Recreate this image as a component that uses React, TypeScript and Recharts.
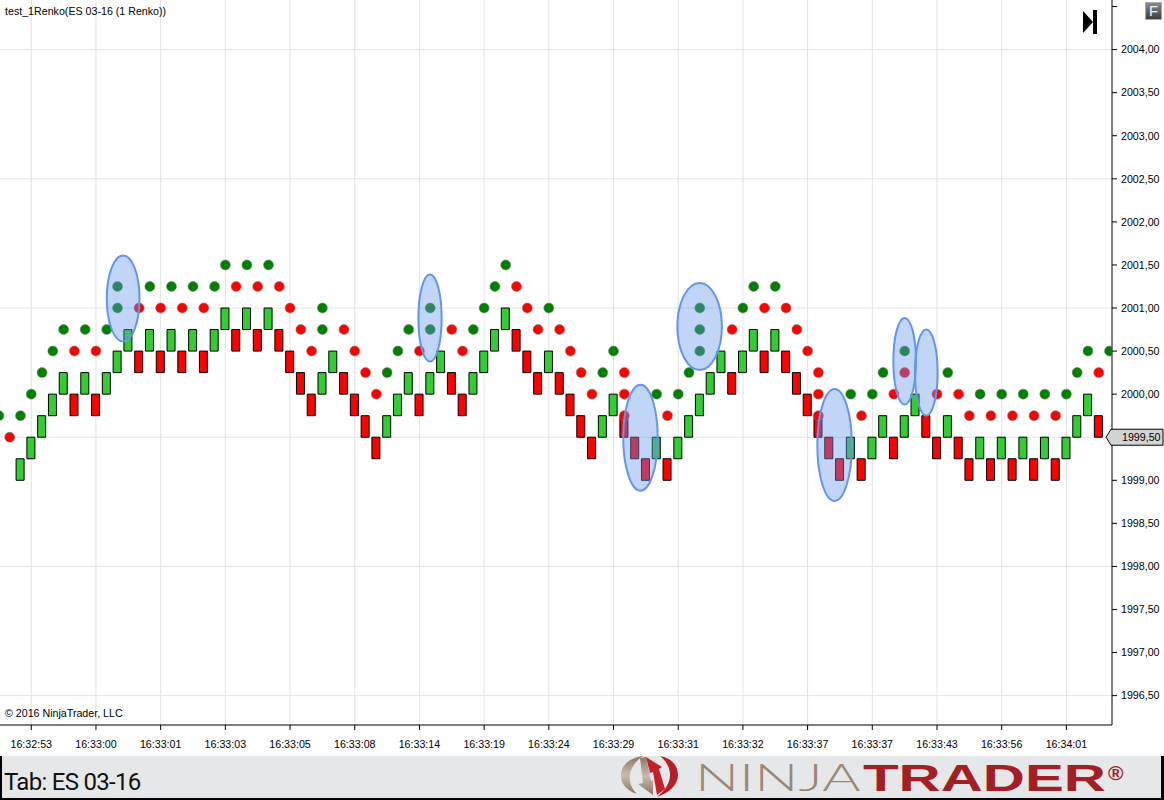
import React from 'react';
import {
  ComposedChart,
  Bar,
  Cell,
  Scatter,
  XAxis,
  YAxis,
  CartesianGrid,
  ReferenceArea,
  ReferenceDot,
} from 'recharts';

// Renko bricks, first one sits at index -1. Each brick is 0.25 tall.
const brickLows = [
  1999, 1999.25, 1999.5, 1999.75, 2000, 1999.75, 2000, 1999.75, 2000, 2000.25,
  2000.5, 2000.25, 2000.5, 2000.25, 2000.5, 2000.25, 2000.5, 2000.25, 2000.5, 2000.75,
  2000.5, 2000.75, 2000.5, 2000.75, 2000.5, 2000.25, 2000, 1999.75, 2000, 2000.25,
  2000, 1999.75, 1999.5, 1999.25, 1999.5, 1999.75, 2000, 1999.75, 2000, 2000.25,
  2000, 1999.75, 2000, 2000.25, 2000.5, 2000.75, 2000.5, 2000.25, 2000, 2000.25,
  2000, 1999.75, 1999.5, 1999.25, 1999.5, 1999.75, 1999.5, 1999.25, 1999, 1999.25,
  1999, 1999.25, 1999.5, 1999.75, 2000, 2000.25, 2000, 2000.25, 2000.5, 2000.25,
  2000.5, 2000.25, 2000, 1999.75, 1999.5, 1999.25, 1999, 1999.25, 1999, 1999.25,
  1999.5, 1999.25, 1999.5, 1999.75, 1999.5, 1999.25, 1999.5, 1999.25, 1999, 1999.25,
  1999, 1999.25, 1999, 1999.25, 1999, 1999.25, 1999, 1999.25, 1999.5, 1999.75,
  1999.5,
];

const brickDirs = [
  'G', 'G', 'G', 'G', 'G', 'R', 'G', 'R', 'G', 'G',
  'G', 'R', 'G', 'R', 'G', 'R', 'G', 'R', 'G', 'G',
  'R', 'G', 'R', 'G', 'R', 'R', 'R', 'R', 'G', 'G',
  'R', 'R', 'R', 'R', 'G', 'G', 'G', 'R', 'G', 'G',
  'R', 'R', 'G', 'G', 'G', 'G', 'R', 'R', 'R', 'G',
  'R', 'R', 'R', 'R', 'G', 'G', 'R', 'R', 'R', 'G',
  'R', 'G', 'G', 'G', 'G', 'G', 'R', 'G', 'G', 'R',
  'G', 'R', 'R', 'R', 'R', 'R', 'R', 'G', 'R', 'G',
  'G', 'R', 'G', 'G', 'R', 'R', 'G', 'R', 'R', 'G',
  'R', 'G', 'R', 'G', 'R', 'G', 'R', 'G', 'G', 'G',
  'R',
];

const greenDots = [
  [-3, 1999.75], [-1, 1999.75], [0, 2000], [1, 2000.25], [2, 2000.5], [3, 2000.75], [5, 2000.75],
  [7, 2000.75], [8, 2001], [8, 2001.25], [11, 2001.25], [13, 2001.25], [15, 2001.25], [17, 2001.25],
  [18, 2001.5], [20, 2001.5], [22, 2001.5], [27, 2000.75], [27, 2001], [33, 2000.25], [34, 2000.5],
  [35, 2000.75], [37, 2000.75], [37, 2001], [41, 2000.75], [42, 2001], [43, 2001.25], [44, 2001.5],
  [48, 2001], [53, 2000.25], [54, 2000.5], [58, 2000], [60, 2000], [61, 2000.25], [62, 2000.5],
  [62, 2000.75], [62, 2001], [66, 2001], [67, 2001.25], [69, 2001.25], [76, 2000], [78, 2000],
  [79, 2000.25], [81, 2000.5], [85, 2000.25], [88, 2000], [90, 2000], [92, 2000], [94, 2000],
  [96, 2000], [97, 2000.25], [98, 2000.5], [100, 2000.5],
];

const redDots = [
  [-2, 1999.5], [4, 2000.5], [6, 2000.5], [10, 2001], [12, 2001], [14, 2001], [16, 2001],
  [19, 2001.25], [21, 2001.25], [23, 2001.25], [24, 2001], [25, 2000.75], [26, 2000.5], [29, 2000.75],
  [30, 2000.5], [31, 2000.25], [32, 2000], [36, 2000.5], [39, 2000.75], [40, 2000.5], [45, 2001.25],
  [46, 2001], [47, 2000.75], [49, 2000.75], [50, 2000.5], [51, 2000.25], [52, 2000], [55, 2000.25],
  [55, 2000], [55, 1999.75], [59, 1999.75], [65, 2000.75], [68, 2001], [70, 2001], [71, 2000.75],
  [72, 2000.5], [73, 2000.25], [73, 2000], [73, 1999.75], [77, 1999.75], [80, 2000], [81, 2000.25],
  [84, 2000], [86, 2000], [87, 1999.75], [89, 1999.75], [91, 1999.75], [93, 1999.75], [95, 1999.75],
  [99, 2000.25],
];

// hand drawn ellipses: index from/to, price from/to
const ellipses = [
  [7.0, 10.04, 2000.61, 2001.61],
  [35.9, 38.06, 2000.38, 2001.39],
  [54.9, 58.1, 1998.88, 2000.11],
  [59.92, 64.05, 2000.28, 2001.29],
  [72.9, 76.1, 1998.76, 2000.06],
  [79.95, 82.05, 1999.88, 2000.885],
  [81.95, 84.06, 1999.75, 2000.75],
];

const timeLabels = [
  '16:32:53', '16:33:00', '16:33:01', '16:33:03', '16:33:05', '16:33:08', '16:33:14', '16:33:19', '16:33:24',
  '16:33:29', '16:33:31', '16:33:32', '16:33:37', '16:33:37', '16:33:43', '16:33:56', '16:34:01',
];
const timeTicks = timeLabels.map((_, k) => k * 6);

const priceTicks = [
  1996.5, 1997, 1997.5, 1998, 1998.5, 1999, 1999.5, 2000, 2000.5, 2001, 2001.5, 2002, 2002.5, 2003, 2003.5, 2004, 2004.5,
];
const priceGrid = [1996.5, 1998, 1999.5, 2001, 2002.5, 2004];
const lastPrice = 1999.5;

const X_MIN = -2.9;
const X_MAX = 100.23;

const bricks = brickLows.map((low, k) => ({ i: k - 1, range: [low, low + 0.25], dir: brickDirs[k] }));
const toDots = (rows: number[][]) => rows.map(([i, v]) => ({ i, v }));

const GREEN = '#32cd32';
const RED = '#ff0000';
const TICK_FONT = { fontSize: 10.67, fontFamily: 'Liberation Sans', fill: '#000' };

const formatPrice = (v: number) => v.toFixed(2).replace('.', ',');
// the top tick has no label, the last price sits in its own tag
const formatPriceTick = (v: number) => (v > 2004.25 || v === lastPrice ? '' : formatPrice(v));

const dotShape = (color: string) => (p: any) => (
  <circle cx={p.cx} cy={p.cy} r={5} fill={color} stroke="#808080" strokeOpacity={0.7} strokeWidth={0.8} />
);

const ellipseShape = (p: any) => (
  <ellipse
    cx={p.x + p.width / 2}
    cy={p.y + p.height / 2}
    rx={p.width / 2}
    ry={p.height / 2}
    fill="#6495ed"
    fillOpacity={0.4}
    stroke="#6495ed"
    strokeWidth={2}
  />
);

const priceTag = (p: any) => {
  const x = p.cx;
  const y = p.cy;
  return (
    <g>
      <polygon
        points={`${x - 6},${y} ${x - 1},${y - 8} ${x + 51},${y - 8} ${x + 51},${y + 8} ${x - 1},${y + 8}`}
        fill="#d3d3d3"
        stroke="#000"
        strokeWidth={1}
      />
      <text x={x + 10} y={y + 4} {...TICK_FONT}>
        {formatPrice(lastPrice)}
      </text>
    </g>
  );
};

function Logo() {
  return (
    <svg width={560} height={64} style={{ position: 'absolute', left: 604, top: 736 }}>
      <defs>
        <linearGradient id="tan" x1="0" y1="0" x2="0" y2="1">
          <stop offset="0" stopColor="#8d7563" />
          <stop offset="0.5" stopColor="#c8bcae" />
          <stop offset="1" stopColor="#8a7464" />
        </linearGradient>
      </defs>
      <g transform="translate(0 20)">
        {/* left swoosh and down arrow */}
        <path d="M39 0 C24 2 17 10 17 20 C17 29 24 35 33 38 C27 32 25 26 26 19 C27 11 32 5 39 0 Z" fill="url(#tan)" />
        <path d="M36 2 L42 1 L47 25 L49 24 L49 39 L34 28 L39 27 Z" fill="url(#tan)" />
        {/* right swoosh and up arrow */}
        <path d="M56 0 C68 2 74 10 74 19 C74 29 65 37 53 41 C60 35 66 28 66 19 C66 11 62 5 56 0 Z" fill="#b3202a" />
        <path d="M42 1 L58 11 L55 13 L61 33 L53 39 L49 16 L46 17 Z" fill="#c4202b" />
        <text
          transform="translate(91 35) scale(1.58 1)"
          fontFamily="Lato"
          fontWeight={300}
          fontSize={37}
          fill="#9b8776"
        >
          NINJA
        </text>
        <text
          x={259}
          y={35}
          fontFamily="Liberation Sans"
          fontWeight={700}
          fontSize={37}
          fill="#a31f26"
          textLength={243}
          lengthAdjust="spacingAndGlyphs"
        >
          TRADER
        </text>
        <text x={504} y={24} fontFamily="Liberation Sans" fontWeight={700} fontSize={21} fill="#a31f26">
          ®
        </text>
      </g>
    </svg>
  );
}

export default function App() {
  return (
    <div style={{ position: 'absolute', left: 0, top: 0, width: 1164, height: 800, background: '#fff', overflow: 'hidden' }}>
      <ComposedChart
        width={1164}
        height={756}
        data={bricks}
        margin={{ top: 0, right: 0, bottom: 0, left: 0 }}
        barSize={8}
      >
        <CartesianGrid stroke="#e2e2e2" strokeWidth={1} horizontalValues={priceGrid} verticalValues={timeTicks} />
        <XAxis
          dataKey="i"
          type="number"
          domain={[X_MIN, X_MAX]}
          allowDataOverflow
          ticks={timeTicks}
          interval={0}
          height={31}
          tickSize={5}
          tickMargin={10}
          tick={TICK_FONT}
          tickLine={{ stroke: '#000' }}
          axisLine={{ stroke: '#000' }}
          tickFormatter={(v: number) => timeLabels[v / 6]}
        />
        <YAxis
          dataKey="v"
          orientation="right"
          type="number"
          domain={[1996.159, 2004.576]}
          allowDataOverflow
          ticks={priceTicks}
          interval={0}
          width={52}
          tickSize={5}
          tickMargin={4}
          tick={TICK_FONT}
          tickLine={{ stroke: '#000' }}
          axisLine={{ stroke: '#000' }}
          tickFormatter={formatPriceTick}
        />
        <Bar dataKey="range" isAnimationActive={false} stroke="#000" strokeWidth={1}>
          {bricks.map((b) => (
            <Cell key={b.i} fill={b.dir === 'G' ? GREEN : RED} />
          ))}
        </Bar>
        <Scatter data={toDots(greenDots)} dataKey="v" isAnimationActive={false} shape={dotShape('#008000')} />
        <Scatter data={toDots(redDots)} dataKey="v" isAnimationActive={false} shape={dotShape(RED)} />
        {ellipses.map(([x1, x2, y1, y2], k) => (
          <ReferenceArea key={k} x1={x1} x2={x2} y1={y1} y2={y2} ifOverflow="visible" shape={ellipseShape} zIndex={1000} />
        ))}
        <ReferenceDot x={X_MAX} y={lastPrice} ifOverflow="visible" shape={priceTag} zIndex={1000} />
      </ComposedChart>

      <div style={{ position: 'absolute', left: 5, top: 5, font: '10.67px "Liberation Sans"', color: '#000' }}>
        test_1Renko(ES 03-16 (1 Renko))
      </div>
      <div style={{ position: 'absolute', left: 5, top: 707, font: '10.67px "Liberation Sans"', color: '#000' }}>
        © 2016 NinjaTrader, LLC
      </div>

      {/* skip to end button */}
      <svg width={16} height={26} style={{ position: 'absolute', left: 1082, top: 9 }}>
        <polygon points="1,2 11,13 1,24" fill="#000" />
        <rect x={11} y={1} width={4} height={24} fill="#000" />
      </svg>
      {/* F button */}
      <div
        style={{
          position: 'absolute',
          left: 1145,
          top: 2,
          width: 17,
          height: 18,
          background: 'linear-gradient(#8a8a8a, #3e3e3e)',
          border: '1px solid #aaa',
          boxSizing: 'border-box',
          color: '#eef',
          font: '15px "Liberation Sans"',
          textAlign: 'center',
          lineHeight: '16px',
        }}
      >
        F
      </div>

      {/* bottom strip */}
      <div
        style={{
          position: 'absolute',
          left: 0,
          top: 756,
          width: 1164,
          height: 44,
          background: '#e6e7e8',
          borderLeft: '2px solid #000',
          borderRight: '3px solid #000',
          borderBottom: '2px solid #000',
          boxSizing: 'border-box',
        }}
      >
        <div style={{ position: 'absolute', left: 2, top: 12, font: '24px Roboto', letterSpacing: '-0.7px', color: '#111' }}>
          Tab: ES 03-16
        </div>
      </div>
      <Logo />
    </div>
  );
}
